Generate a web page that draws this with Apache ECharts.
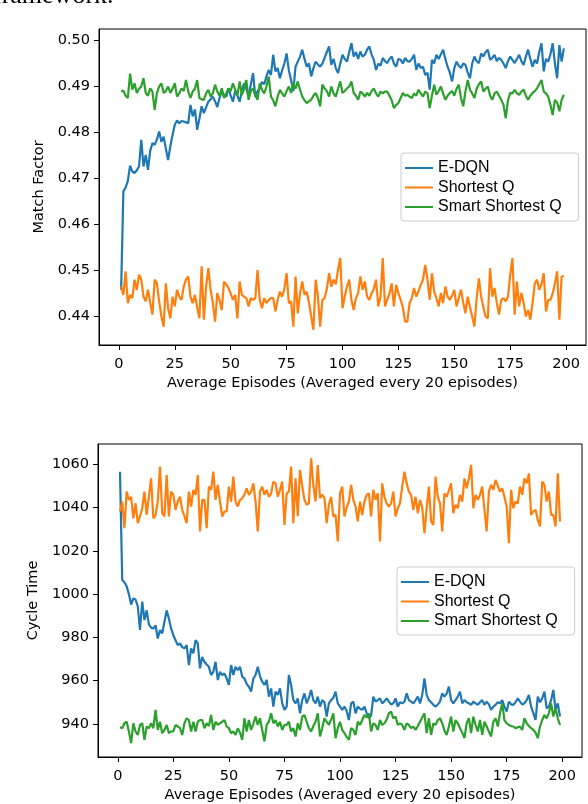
<!DOCTYPE html>
<html><head><meta charset="utf-8">
<script src="https://cdn.jsdelivr.net/npm/echarts@6.0.0/dist/echarts.min.js"></script>
<style>html,body{margin:0;padding:0;background:#fff}#c{width:588px;height:804px}</style>
</head><body><div id="c"></div>
<script>
const xTicks=[0,25,50,75,100,125,150,175,200];
const mfTicks=[0.44,0.45,0.46,0.47,0.48,0.49,0.50];
const ctTicks=[940,960,980,1000,1020,1040,1060];
const seriesNames=['E-DQN','Shortest Q','Smart Shortest Q'];
const colors=['#1f77b4','#ff7f0e','#2ca02c'];

// Match Factor (top chart), episodes 1..199
const mfEDQN=[
0.4458,0.4672,0.4680,0.4695,0.4728,0.4715,0.4712,0.4718,0.4726,0.4784,
0.4726,0.4751,0.4719,0.4760,0.4777,0.4773,0.4785,0.4802,0.4780,0.4791,
0.4765,0.4740,0.4770,0.4795,0.4817,0.4826,0.4820,0.4825,0.4824,0.4822,
0.4820,0.4860,0.4835,0.4850,0.4806,0.4830,0.4857,0.4842,0.4855,0.4867,
0.4872,0.4878,0.4868,0.4855,0.4875,0.4889,0.4882,0.4878,0.4896,0.4880,
0.4867,0.4890,0.4880,0.4867,0.4890,0.4907,0.4895,0.4878,0.4905,0.4929,
0.4878,0.4890,0.4896,0.4910,0.4905,0.4922,0.4936,0.4925,0.4969,0.4933,
0.4940,0.4918,0.4935,0.4950,0.4972,0.4935,0.4914,0.4890,0.4943,0.4954,
0.4965,0.4980,0.4960,0.4943,0.4950,0.4922,0.4940,0.4954,0.4948,0.4943,
0.4950,0.4962,0.4975,0.4987,0.4947,0.4960,0.4940,0.4929,0.4950,0.4969,
0.4960,0.4954,0.4975,0.4994,0.4965,0.4975,0.4960,0.4976,0.4965,0.4969,
0.4980,0.4987,0.4970,0.4958,0.4936,0.4950,0.4945,0.4962,0.4955,0.4951,
0.4960,0.4965,0.4950,0.4943,0.4960,0.4958,0.4950,0.4962,0.4955,0.4954,
0.4960,0.4969,0.4936,0.4950,0.4940,0.4943,0.4925,0.4930,0.4893,0.4958,
0.4950,0.4969,0.4960,0.4970,0.4980,0.4960,0.4943,0.4930,0.4911,0.4940,
0.4954,0.4945,0.4940,0.4950,0.4947,0.4930,0.4918,0.4950,0.4965,0.4955,
0.4951,0.4972,0.4965,0.4975,0.4980,0.4958,0.4962,0.4969,0.4955,0.4962,
0.4958,0.4950,0.4940,0.4955,0.4965,0.4958,0.4951,0.4960,0.4969,0.4955,
0.4947,0.4965,0.4980,0.4960,0.4943,0.4958,0.4950,0.4975,0.4994,0.4933,
0.4960,0.4954,0.4970,0.4994,0.4950,0.4918,0.4990,0.4954,0.4983];
const mfShortest=[
0.4465,0.4447,0.4498,0.4429,0.4447,0.4440,0.4480,0.4458,0.4491,0.4480,
0.4443,0.4433,0.4458,0.4430,0.4404,0.4480,0.4472,0.4433,0.4400,0.4378,
0.4472,0.4418,0.4396,0.4443,0.4422,0.4458,0.4443,0.4436,0.4465,0.4480,
0.4487,0.4443,0.4429,0.4447,0.4420,0.4396,0.4509,0.4393,0.4465,0.4505,
0.4458,0.4430,0.4389,0.4451,0.4436,0.4414,0.4476,0.4469,0.4462,0.4450,
0.4436,0.4447,0.4396,0.4476,0.4447,0.4443,0.4440,0.4422,0.4440,0.4436,
0.4440,0.4501,0.4436,0.4418,0.4440,0.4429,0.4436,0.4440,0.4440,0.4411,
0.4436,0.4454,0.4443,0.4460,0.4494,0.4429,0.4433,0.4378,0.4487,0.4407,
0.4450,0.4476,0.4447,0.4454,0.4430,0.4400,0.4371,0.4480,0.4443,0.4378,
0.4436,0.4440,0.4460,0.4494,0.4465,0.4480,0.4470,0.4501,0.4527,0.4418,
0.4443,0.4465,0.4480,0.4436,0.4414,0.4440,0.4451,0.4487,0.4458,0.4476,
0.4443,0.4436,0.4450,0.4460,0.4480,0.4422,0.4443,0.4527,0.4422,0.4436,
0.4450,0.4472,0.4422,0.4469,0.4450,0.4436,0.4420,0.4389,0.4389,0.4429,
0.4440,0.4462,0.4443,0.4455,0.4469,0.4480,0.4512,0.4480,0.4436,0.4494,
0.4454,0.4440,0.4422,0.4451,0.4429,0.4465,0.4443,0.4436,0.4445,0.4458,
0.4422,0.4440,0.4458,0.4430,0.4407,0.4443,0.4420,0.4400,0.4378,0.4440,
0.4483,0.4443,0.4420,0.4400,0.4396,0.4505,0.4443,0.4462,0.4430,0.4404,
0.4436,0.4440,0.4433,0.4443,0.4490,0.4527,0.4404,0.4476,0.4422,0.4451,
0.4430,0.4400,0.4414,0.4393,0.4430,0.4472,0.4480,0.4458,0.4470,0.4494,
0.4411,0.4436,0.4436,0.4450,0.4472,0.4498,0.4393,0.4487,0.4488];
const mfSmart=[
0.4889,0.4891,0.4880,0.4875,0.4928,0.4893,0.4907,0.4886,0.4895,0.4900,
0.4918,0.4886,0.4880,0.4896,0.4889,0.4849,0.4886,0.4900,0.4907,0.4886,
0.4890,0.4900,0.4886,0.4895,0.4907,0.4878,0.4885,0.4896,0.4890,0.4914,
0.4890,0.4875,0.4889,0.4895,0.4914,0.4875,0.4872,0.4871,0.4885,0.4893,
0.4878,0.4885,0.4904,0.4889,0.4880,0.4896,0.4875,0.4885,0.4896,0.4890,
0.4907,0.4893,0.4880,0.4911,0.4882,0.4895,0.4914,0.4871,0.4890,0.4896,
0.4880,0.4871,0.4907,0.4893,0.4885,0.4900,0.4922,0.4878,0.4870,0.4857,
0.4878,0.4893,0.4885,0.4878,0.4890,0.4900,0.4886,0.4907,0.4895,0.4911,
0.4893,0.4878,0.4870,0.4864,0.4868,0.4871,0.4880,0.4886,0.4875,0.4857,
0.4904,0.4896,0.4890,0.4878,0.4900,0.4885,0.4878,0.4895,0.4911,0.4886,
0.4890,0.4896,0.4900,0.4911,0.4886,0.4880,0.4871,0.4889,0.4885,0.4878,
0.4886,0.4880,0.4890,0.4896,0.4885,0.4878,0.4889,0.4885,0.4889,0.4889,
0.4880,0.4870,0.4853,0.4860,0.4864,0.4875,0.4886,0.4880,0.4882,0.4878,
0.4875,0.4885,0.4880,0.4893,0.4885,0.4878,0.4889,0.4885,0.4853,0.4880,
0.4904,0.4882,0.4890,0.4900,0.4885,0.4871,0.4880,0.4886,0.4890,0.4880,
0.4895,0.4904,0.4875,0.4857,0.4890,0.4914,0.4893,0.4885,0.4875,0.4895,
0.4905,0.4911,0.4889,0.4895,0.4900,0.4880,0.4871,0.4885,0.4889,0.4880,
0.4871,0.4860,0.4831,0.4870,0.4886,0.4885,0.4893,0.4885,0.4882,0.4889,
0.4893,0.4880,0.4871,0.4880,0.4886,0.4890,0.4896,0.4905,0.4914,0.4889,
0.4885,0.4878,0.4860,0.4838,0.4871,0.4865,0.4846,0.4871,0.4882];

// Cycle Time (bottom chart), episodes 1..199
const ctEDQN=[
1056.6,1006.5,1005.5,1003.6,1000.0,995.2,998.0,997.5,994.4,983.4,
996.5,988.0,992.5,986.0,984.5,984.1,985.6,979.5,983.4,981.8,
987.2,992.5,988.7,984.0,981.0,978.7,976.4,977.2,975.5,974.9,
976.4,967.2,974.9,972.6,978.7,977.2,965.7,971.0,968.7,967.5,
966.4,962.6,964.1,968.7,960.3,964.1,962.6,963.3,961.0,958.0,
967.2,962.6,966.4,964.9,966.4,961.8,961.0,958.5,957.2,954.9,
961.0,962.6,966.4,962.0,959.5,958.0,960.3,952.6,956.4,948.0,
954.9,953.4,956.4,949.5,946.5,948.0,962.6,958.0,951.1,949.5,
951.8,944.9,951.0,954.1,949.5,952.0,955.7,951.0,949.5,952.6,
948.0,951.0,950.0,943.4,949.5,951.0,952.0,954.9,949.5,948.0,
946.5,948.0,946.0,941.8,949.5,950.3,944.9,948.0,947.0,946.5,
948.0,945.0,942.6,944.0,952.6,950.3,951.0,951.8,949.5,950.5,
951.8,950.3,949.0,949.5,951.8,948.0,950.0,949.5,950.3,954.1,
951.0,950.3,949.5,951.0,952.6,949.5,953.4,961.0,953.4,951.0,
950.0,948.8,948.0,949.0,950.3,954.1,952.6,954.0,957.2,951.0,
949.5,951.0,952.6,954.9,949.5,951.0,950.0,949.5,948.8,950.3,
949.5,948.8,950.0,951.0,948.8,950.3,949.0,946.5,948.0,948.8,
950.0,949.5,951.0,948.0,945.7,950.3,949.0,948.8,950.0,951.8,
950.3,949.0,949.5,951.0,953.4,948.0,945.0,941.8,952.6,950.0,
951.8,954.9,947.2,948.0,951.0,955.7,946.5,949.5,943.4];
const ctShortest=[
1038.2,1042.8,1030.5,1047.4,1043.6,1045.0,1035.0,1042.0,1032.8,1035.9,
1039.7,1047.4,1036.6,1045.0,1053.5,1035.0,1036.6,1042.8,1059.0,1037.4,
1035.9,1055.0,1035.9,1047.4,1045.9,1039.0,1042.8,1045.0,1039.0,1036.0,
1032.8,1047.4,1040.5,1048.2,1045.9,1055.0,1029.0,1043.6,1043.6,1030.5,
1049.7,1048.2,1056.6,1043.6,1050.5,1042.8,1035.9,1038.2,1038.2,1049.7,
1042.8,1054.3,1042.8,1040.5,1043.6,1044.3,1046.0,1048.9,1045.9,1047.4,
1051.2,1042.8,1029.0,1047.4,1049.7,1045.9,1048.2,1045.0,1046.5,1052.0,
1051.2,1045.0,1048.2,1052.0,1032.0,1046.6,1047.4,1059.0,1032.8,1053.5,
1036.0,1057.4,1050.0,1043.6,1041.3,1042.0,1062.8,1050.5,1042.8,1059.7,
1044.3,1046.0,1044.3,1032.8,1041.3,1045.0,1035.9,1036.6,1024.4,1046.6,
1049.7,1035.9,1040.0,1042.8,1050.5,1043.6,1040.5,1033.6,1042.8,1036.6,
1042.8,1045.9,1046.6,1035.9,1048.2,1043.6,1046.6,1024.4,1051.2,1045.0,
1042.0,1040.5,1042.0,1047.4,1035.9,1039.7,1042.0,1049.7,1056.6,1051.2,
1047.4,1045.9,1039.0,1045.0,1037.4,1043.6,1040.0,1028.2,1039.7,1049.7,
1033.6,1032.0,1054.3,1045.0,1042.0,1029.0,1046.6,1045.0,1048.0,1051.2,
1037.4,1041.3,1039.7,1045.9,1042.8,1053.5,1048.9,1053.5,1059.7,1039.7,
1045.9,1043.6,1045.9,1049.7,1039.0,1029.0,1047.4,1050.5,1048.2,1052.8,
1050.0,1047.4,1048.9,1045.0,1040.5,1023.6,1048.2,1039.7,1042.8,1042.0,
1049.7,1045.9,1053.5,1051.2,1055.8,1036.6,1038.2,1039.0,1034.3,1031.3,
1052.0,1050.5,1042.8,1047.4,1036.6,1036.6,1031.3,1055.8,1033.6];
const ctSmart=[
938.5,938.0,940.3,941.0,936.5,931.1,940.3,936.5,934.9,939.5,
940.3,932.6,938.8,938.0,940.3,938.0,946.5,937.2,941.0,935.7,
937.2,939.5,935.7,936.5,936.5,939.5,938.8,938.0,934.9,940.3,
942.6,941.8,936.5,941.0,936.5,941.0,941.8,941.8,938.0,940.3,
939.0,944.1,937.2,941.0,939.5,940.3,941.0,941.8,938.8,938.0,
935.7,936.5,934.9,938.0,936.0,932.6,942.6,936.5,941.8,937.2,
940.0,943.4,939.5,942.6,937.2,931.9,939.5,941.0,944.9,940.3,
941.8,938.8,941.0,937.2,939.5,939.5,941.0,936.5,938.0,934.2,
940.3,937.2,943.4,944.1,941.0,938.0,936.5,939.0,941.0,944.9,
934.2,938.0,942.6,941.0,939.5,942.0,944.9,933.4,938.0,941.0,
937.2,935.7,934.0,932.6,938.0,937.2,934.9,941.0,939.5,941.8,
944.1,943.0,944.9,936.5,940.3,939.5,937.2,941.8,939.5,940.3,
942.0,944.9,945.7,942.6,943.4,939.5,940.3,939.5,937.2,940.3,
939.5,938.0,938.8,937.2,939.0,941.0,943.0,944.9,935.7,942.6,
934.9,940.3,939.5,941.8,942.6,940.3,937.0,934.9,938.8,943.4,
936.5,941.8,940.3,938.0,936.0,933.4,940.3,942.6,935.7,943.4,
939.5,936.5,941.8,934.9,941.0,938.8,936.5,934.2,941.0,942.6,
938.8,944.9,949.5,941.8,940.3,939.5,939.0,938.8,938.0,938.5,
938.8,937.2,942.6,940.3,939.0,938.0,937.2,936.0,933.4,938.8,
941.8,944.1,942.6,945.0,949.5,943.4,947.2,942.6,939.5];

function pts(a){return a.map((v,i)=>[i+1,v]);}
const TF={fontFamily:'DejaVu Sans',fontSize:14.5,color:'#000'};
const xName='Average Episodes (Averaged every 20 episodes)';
function xAx(gi){return {type:'value',gridIndex:gi,min:-8.9,max:208.9,
  axisLine:{show:true,onZero:false,lineStyle:{color:'#000',width:1}},
  axisTick:{show:true,length:5,lineStyle:{color:'#000',width:1},customValues:xTicks},
  axisLabel:Object.assign({margin:12,customValues:xTicks},TF),
  splitLine:{show:false},
  name:xName,nameLocation:'middle',nameGap:31,nameTextStyle:TF};}
function yAx(gi,min,max,ticks,fmt,name,gap){return {type:'value',gridIndex:gi,min:min,max:max,
  axisLine:{show:true,onZero:false,lineStyle:{color:'#000',width:1}},
  axisTick:{show:true,length:5,lineStyle:{color:'#000',width:1},customValues:ticks},
  axisLabel:Object.assign({margin:9,customValues:ticks,formatter:fmt},TF),
  splitLine:{show:false},
  name:name,nameLocation:'middle',nameGap:gap,nameRotate:90,nameTextStyle:TF};}
function lg(left,top){return {data:seriesNames,orient:'vertical',left:left,top:top,icon:'rect',
  itemWidth:28,itemHeight:2,itemGap:3.5,padding:[7,17,6,4],selectedMode:false,
  backgroundColor:'rgba(255,255,255,0.8)',borderColor:'#cccccc',borderWidth:1,borderRadius:3,
  textStyle:{fontFamily:'Liberation Sans',fontSize:16,color:'#000',lineHeight:16}};}
function ln(name,ci,xi,data){return {name:name,type:'line',xAxisIndex:xi,yAxisIndex:xi,data:pts(data),
  showSymbol:false,symbol:'none',animation:false,color:colors[ci],
  lineStyle:{color:colors[ci],width:2.2},z:2+ci};}

const chart=echarts.init(document.getElementById('c'));
chart.setOption({
  animation:false,
  backgroundColor:'#fff',
  graphic:[{type:'text',left:-7,top:-17,style:{text:'framework.',font:'26px "Liberation Serif"',fill:'#000'}}],
  grid:[
    {left:99,top:29,width:487,height:316,show:true,borderColor:'#000',borderWidth:1,backgroundColor:'transparent'},
    {left:98,top:444,width:484,height:314,show:true,borderColor:'#000',borderWidth:1,backgroundColor:'transparent'}
  ],
  xAxis:[xAx(0),xAx(1)],
  yAxis:[
    yAx(0,0.4338,0.5025,mfTicks,v=>v.toFixed(2),'Match Factor',44),
    yAx(1,924.7,1069.4,ctTicks,v=>String(Math.round(v)),'Cycle Time',48)
  ],
  legend:[lg(401,153),lg(397,567)],
  series:[
    ln('E-DQN',0,0,mfEDQN),ln('Shortest Q',1,0,mfShortest),ln('Smart Shortest Q',2,0,mfSmart),
    ln('E-DQN',0,1,ctEDQN),ln('Shortest Q',1,1,ctShortest),ln('Smart Shortest Q',2,1,ctSmart)
  ]
});
</script></body></html>
